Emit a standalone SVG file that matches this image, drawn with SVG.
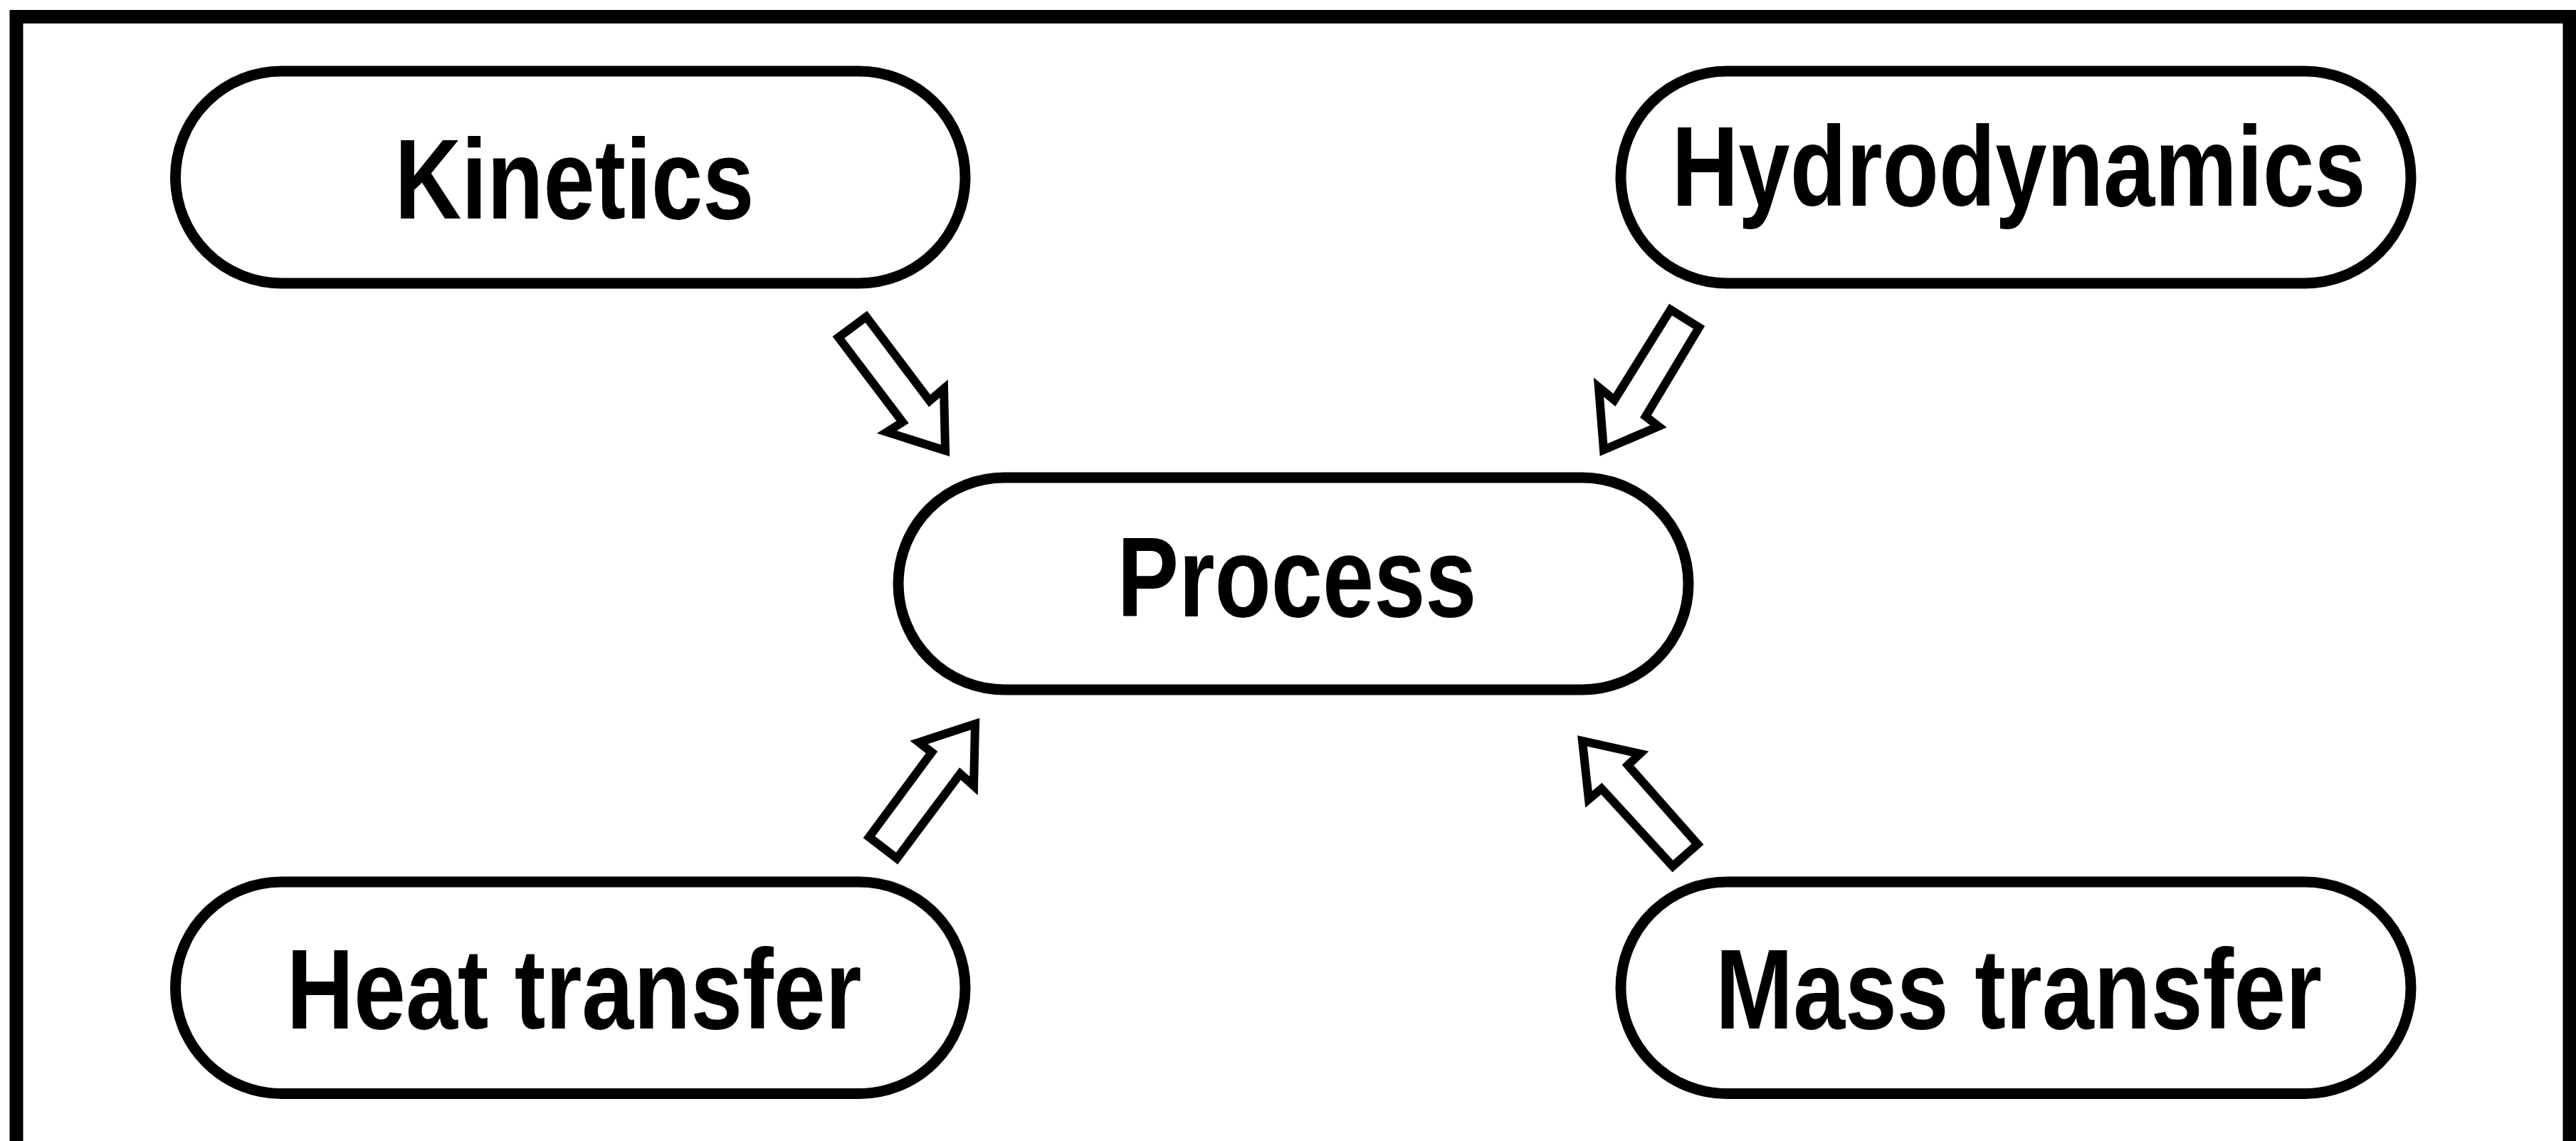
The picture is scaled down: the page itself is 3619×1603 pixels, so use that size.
<svg xmlns="http://www.w3.org/2000/svg" width="3619" height="1603" viewBox="0 0 3619 1603">
<style>
.frame{fill:none;stroke:#000;stroke-width:19}
.node rect{fill:#fff;stroke:#000;stroke-width:15}
.node text{font-family:"Liberation Sans",Arial,sans-serif;font-weight:bold;font-size:159px;fill:#000;text-anchor:middle}
.arrow{fill:#fff;stroke:#000;stroke-width:12;stroke-linejoin:miter;stroke-miterlimit:10}
</style>
<rect width="3619" height="1603" fill="#fff"/>
<rect class="frame" x="23" y="23.5" width="3587" height="1660"/>
<g id="kinetics" class="node">
<rect x="246.5" y="100" width="1109.5" height="298" rx="149" ry="149"/>
<text x="807" y="307" textLength="505" lengthAdjust="spacingAndGlyphs">Kinetics</text>
</g>
<g id="hydrodynamics" class="node">
<rect x="2277" y="100" width="1110" height="298" rx="149" ry="149"/>
<text x="2836" y="289" textLength="975" lengthAdjust="spacingAndGlyphs">Hydrodynamics</text>
</g>
<g id="process" class="node">
<rect x="1262" y="671" width="1110" height="298" rx="149" ry="149"/>
<text x="1822" y="866" textLength="505" lengthAdjust="spacingAndGlyphs">Process</text>
</g>
<g id="heat-transfer" class="node">
<rect x="246.5" y="1239" width="1109.5" height="297.5" rx="148.75" ry="148.75"/>
<text x="806.5" y="1445" textLength="808" lengthAdjust="spacingAndGlyphs">Heat transfer</text>
</g>
<g id="mass-transfer" class="node">
<rect x="2277" y="1239" width="1110" height="297.5" rx="148.75" ry="148.75"/>
<text x="2836" y="1445" textLength="852" lengthAdjust="spacingAndGlyphs">Mass transfer</text>
</g>
<g id="connectors">
<polygon class="arrow" points="1217,445 1178,474 1268,593 1246,607 1328,633 1326,546 1306,563"/>
<polygon class="arrow" points="2347,435 2387,460 2312,585 2330,599 2253,632 2246,544 2268,562"/>
<polygon class="arrow" points="1260,1206 1221,1176 1309,1057 1291,1043 1370,1017 1368,1104 1349,1087"/>
<polygon class="arrow" points="2385,1186 2350,1217 2250,1108 2232,1123 2223,1041 2304,1059 2287,1075"/>
</g>
</svg>
